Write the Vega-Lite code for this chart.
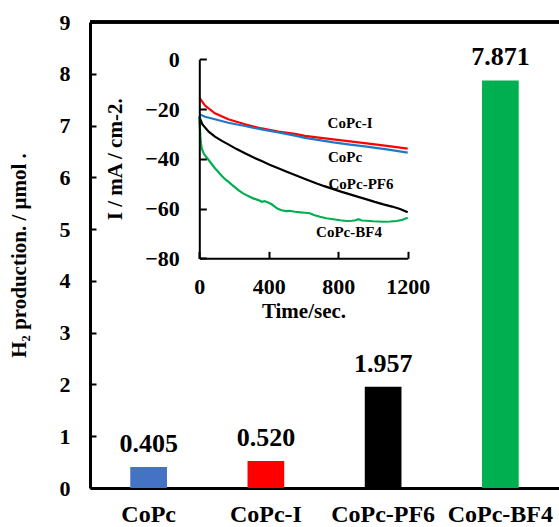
{
  "$schema": "https://vega.github.io/schema/vega-lite/v6.json",
  "autosize": {"type": "none"},
  "padding": {"left": 90, "top": 22, "right": 0, "bottom": 39},
  "width": 469,
  "height": 466,
  "background": "white",
  "config": {
    "font": "Times New Roman, Liberation Serif, serif",
    "text": {"font": "Times New Roman, Liberation Serif, serif"},
    "view": {"stroke": null},
    "axis": {"labelFont": "Times New Roman, Liberation Serif, serif", "titleFont": "Times New Roman, Liberation Serif, serif", "labelFontWeight": "bold", "titleFontWeight": "bold", "labelColor": "black", "titleColor": "black", "domainColor": "black", "tickColor": "black", "grid": false}
  },
  "datasets": {
    "bars": [
      {"sample": "CoPc", "h2": 0.405},
      {"sample": "CoPc-I", "h2": 0.520},
      {"sample": "CoPc-PF6", "h2": 1.957},
      {"sample": "CoPc-BF4", "h2": 7.871}
    ],
    "curves": [
      {"s": "CoPc-I", "t": 0, "i": -15.4}, {"s": "CoPc-I", "t": 33, "i": -18.6}, {"s": "CoPc-I", "t": 90, "i": -21.7}, {"s": "CoPc-I", "t": 167, "i": -24.1}, {"s": "CoPc-I", "t": 263, "i": -26.1}, {"s": "CoPc-I", "t": 359, "i": -27.8}, {"s": "CoPc-I", "t": 455, "i": -29.1}, {"s": "CoPc-I", "t": 551, "i": -30.0}, {"s": "CoPc-I", "t": 609, "i": -30.8}, {"s": "CoPc-I", "t": 700, "i": -31.6}, {"s": "CoPc-I", "t": 772, "i": -32.2}, {"s": "CoPc-I", "t": 868, "i": -33.0}, {"s": "CoPc-I", "t": 964, "i": -33.8}, {"s": "CoPc-I", "t": 1080, "i": -34.8}, {"s": "CoPc-I", "t": 1200, "i": -35.9},
      {"s": "CoPc", "t": 0, "i": -22.1}, {"s": "CoPc", "t": 33, "i": -23.1}, {"s": "CoPc", "t": 90, "i": -24.1}, {"s": "CoPc", "t": 167, "i": -25.5}, {"s": "CoPc", "t": 263, "i": -26.8}, {"s": "CoPc", "t": 359, "i": -28.2}, {"s": "CoPc", "t": 455, "i": -29.4}, {"s": "CoPc", "t": 551, "i": -30.7}, {"s": "CoPc", "t": 609, "i": -31.6}, {"s": "CoPc", "t": 700, "i": -32.6}, {"s": "CoPc", "t": 772, "i": -33.4}, {"s": "CoPc", "t": 868, "i": -34.3}, {"s": "CoPc", "t": 964, "i": -35.1}, {"s": "CoPc", "t": 1080, "i": -36.2}, {"s": "CoPc", "t": 1200, "i": -37.5},
      {"s": "CoPc-PF6", "t": 0, "i": -23.1}, {"s": "CoPc-PF6", "t": 17, "i": -26.1}, {"s": "CoPc-PF6", "t": 54, "i": -29.1}, {"s": "CoPc-PF6", "t": 90, "i": -31.1}, {"s": "CoPc-PF6", "t": 130, "i": -32.8}, {"s": "CoPc-PF6", "t": 167, "i": -34.2}, {"s": "CoPc-PF6", "t": 215, "i": -36.1}, {"s": "CoPc-PF6", "t": 263, "i": -37.8}, {"s": "CoPc-PF6", "t": 310, "i": -39.4}, {"s": "CoPc-PF6", "t": 359, "i": -40.9}, {"s": "CoPc-PF6", "t": 405, "i": -42.4}, {"s": "CoPc-PF6", "t": 455, "i": -43.8}, {"s": "CoPc-PF6", "t": 500, "i": -45.1}, {"s": "CoPc-PF6", "t": 551, "i": -46.5}, {"s": "CoPc-PF6", "t": 609, "i": -48.1}, {"s": "CoPc-PF6", "t": 676, "i": -49.9}, {"s": "CoPc-PF6", "t": 720, "i": -51.0}, {"s": "CoPc-PF6", "t": 772, "i": -52.2}, {"s": "CoPc-PF6", "t": 820, "i": -53.3}, {"s": "CoPc-PF6", "t": 868, "i": -54.3}, {"s": "CoPc-PF6", "t": 915, "i": -55.3}, {"s": "CoPc-PF6", "t": 964, "i": -56.3}, {"s": "CoPc-PF6", "t": 1010, "i": -57.3}, {"s": "CoPc-PF6", "t": 1060, "i": -58.3}, {"s": "CoPc-PF6", "t": 1110, "i": -59.2}, {"s": "CoPc-PF6", "t": 1156, "i": -60.2}, {"s": "CoPc-PF6", "t": 1200, "i": -61.5},
      {"s": "CoPc-BF4", "t": 0, "i": -23.0}, {"s": "CoPc-BF4", "t": 3, "i": -27.0}, {"s": "CoPc-BF4", "t": 6, "i": -31.0}, {"s": "CoPc-BF4", "t": 10, "i": -34.0}, {"s": "CoPc-BF4", "t": 15, "i": -36.0}, {"s": "CoPc-BF4", "t": 25, "i": -37.8}, {"s": "CoPc-BF4", "t": 40, "i": -39.3}, {"s": "CoPc-BF4", "t": 54, "i": -40.5}, {"s": "CoPc-BF4", "t": 70, "i": -42.0}, {"s": "CoPc-BF4", "t": 90, "i": -43.8}, {"s": "CoPc-BF4", "t": 110, "i": -45.3}, {"s": "CoPc-BF4", "t": 129, "i": -46.8}, {"s": "CoPc-BF4", "t": 150, "i": -48.3}, {"s": "CoPc-BF4", "t": 167, "i": -49.2}, {"s": "CoPc-BF4", "t": 190, "i": -50.6}, {"s": "CoPc-BF4", "t": 225, "i": -52.6}, {"s": "CoPc-BF4", "t": 250, "i": -53.8}, {"s": "CoPc-BF4", "t": 282, "i": -55.0}, {"s": "CoPc-BF4", "t": 310, "i": -55.9}, {"s": "CoPc-BF4", "t": 340, "i": -56.6}, {"s": "CoPc-BF4", "t": 360, "i": -57.3}, {"s": "CoPc-BF4", "t": 375, "i": -57.0}, {"s": "CoPc-BF4", "t": 390, "i": -57.4}, {"s": "CoPc-BF4", "t": 417, "i": -58.3}, {"s": "CoPc-BF4", "t": 440, "i": -59.5}, {"s": "CoPc-BF4", "t": 455, "i": -60.2}, {"s": "CoPc-BF4", "t": 474, "i": -60.7}, {"s": "CoPc-BF4", "t": 500, "i": -61.0}, {"s": "CoPc-BF4", "t": 520, "i": -60.9}, {"s": "CoPc-BF4", "t": 551, "i": -61.3}, {"s": "CoPc-BF4", "t": 580, "i": -61.5}, {"s": "CoPc-BF4", "t": 609, "i": -61.7}, {"s": "CoPc-BF4", "t": 637, "i": -61.9}, {"s": "CoPc-BF4", "t": 660, "i": -62.6}, {"s": "CoPc-BF4", "t": 695, "i": -63.3}, {"s": "CoPc-BF4", "t": 730, "i": -63.9}, {"s": "CoPc-BF4", "t": 772, "i": -64.3}, {"s": "CoPc-BF4", "t": 810, "i": -64.7}, {"s": "CoPc-BF4", "t": 850, "i": -65.0}, {"s": "CoPc-BF4", "t": 880, "i": -64.9}, {"s": "CoPc-BF4", "t": 900, "i": -64.7}, {"s": "CoPc-BF4", "t": 916, "i": -64.3}, {"s": "CoPc-BF4", "t": 935, "i": -64.8}, {"s": "CoPc-BF4", "t": 964, "i": -64.9}, {"s": "CoPc-BF4", "t": 1000, "i": -65.1}, {"s": "CoPc-BF4", "t": 1030, "i": -65.2}, {"s": "CoPc-BF4", "t": 1060, "i": -65.3}, {"s": "CoPc-BF4", "t": 1100, "i": -65.2}, {"s": "CoPc-BF4", "t": 1137, "i": -65.0}, {"s": "CoPc-BF4", "t": 1170, "i": -64.5}, {"s": "CoPc-BF4", "t": 1200, "i": -63.7}
    ],
    "curveLabels": [
      {"s": "CoPc-I", "t": 868, "i": -25.5},
      {"s": "CoPc", "t": 839, "i": -39.2},
      {"s": "CoPc-PF6", "t": 931, "i": -50.1},
      {"s": "CoPc-BF4", "t": 862, "i": -69.4}
    ]
  },
  "layer": [
    {
      "data": {"name": "bars"},
      "encoding": {
        "x": {"field": "sample", "type": "nominal", "sort": null,
          "scale": {"paddingInner": 0.687, "paddingOuter": 0.3435},
          "axis": {"title": null, "labelAngle": 0, "ticks": false, "domainWidth": 3, "labelFontSize": 24, "labelPadding": 14}},
        "y": {"field": "h2", "type": "quantitative",
          "scale": {"domain": [0, 9], "nice": false},
          "axis": {"title": "H₂ production. / μmol .", "values": [0, 1, 2, 3, 4, 5, 6, 7, 8, 9], "domainWidth": 3, "tickWidth": 2, "tickSize": -6, "labelPadding": 26, "labelFontSize": 22, "titleFontSize": 21, "titlePadding": 30}}
      },
      "layer": [
        {"mark": {"type": "bar"},
         "encoding": {"color": {"field": "sample", "type": "nominal", "legend": null,
           "scale": {"domain": ["CoPc", "CoPc-I", "CoPc-PF6", "CoPc-BF4"], "range": ["#4472C4", "#FF0000", "#000000", "#00B050"]}}}},
        {"mark": {"type": "text", "dy": -15, "baseline": "alphabetic", "fontSize": 26, "fontWeight": "bold", "color": "black", "font": "Times New Roman, Liberation Serif, serif"},
         "encoding": {"text": {"field": "h2", "type": "quantitative", "format": ".3f"}}},
        {"mark": {"type": "rule", "strokeWidth": 3, "color": "black"},
         "encoding": {"y": {"datum": 9}, "x": null}}
      ]
    },
    {
      "encoding": {
        "x": {"field": "t", "type": "quantitative",
          "scale": {"domain": [0, 1200], "range": [109.3, 317.7], "nice": false, "zero": false},
          "axis": {"title": "Time/sec.", "values": [0, 400, 800, 1200], "format": "d", "labelFlush": false, "offset": -229.7, "zindex": 2, "domainWidth": 2, "tickWidth": 2, "tickSize": -7, "labelPadding": 25, "labelFontSize": 22, "titleFontSize": 21, "titlePadding": 3, "orient": "bottom"}},
        "y": {"field": "i", "type": "quantitative",
          "scale": {"domain": [-80, 0], "range": [236.3, 37.3], "nice": false, "zero": false},
          "axis": {"title": "I / mA / cm-2.", "values": [0, -20, -40, -60, -80], "labelFlush": false, "offset": -109.3, "zindex": 2, "domainWidth": 2, "tickWidth": 2, "tickSize": -7, "labelPadding": 27, "labelFontSize": 22, "titleFontSize": 21, "titlePadding": 19, "orient": "left"}}
      },
      "layer": [
        {"mark": {"type": "rect", "fill": "white", "stroke": "black", "strokeWidth": 2},
         "encoding": {"x": {"datum": 0}, "x2": {"datum": 1200}, "y": {"datum": -80}, "y2": {"datum": 0}}},
        {"data": {"name": "curves"},
         "mark": {"type": "line", "strokeWidth": 2.2},
         "encoding": {"color": {"field": "s", "type": "nominal", "legend": null,
           "scale": {"domain": ["CoPc", "CoPc-I", "CoPc-PF6", "CoPc-BF4"], "range": ["#1F77C8", "#FF0000", "#000000", "#00B050"]}},
           "order": {"field": "t"}}},
        {"data": {"name": "curveLabels"},
         "mark": {"type": "text", "fontSize": 15, "fontWeight": "bold", "color": "black", "baseline": "middle", "align": "center", "font": "Times New Roman, Liberation Serif, serif"},
         "encoding": {"text": {"field": "s"}}}
      ]
    }
  ],
  "resolve": {"scale": {"x": "independent", "y": "independent", "color": "independent"}, "axis": {"x": "independent", "y": "independent"}}
}
